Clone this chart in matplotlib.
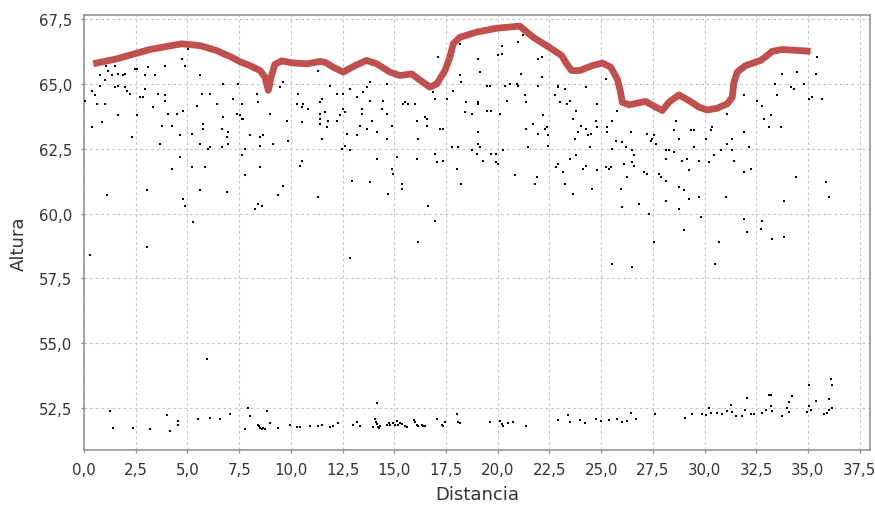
import numpy as np
import matplotlib
matplotlib.use("Agg")
import matplotlib.pyplot as plt
from matplotlib.ticker import MultipleLocator, FuncFormatter

# Puntos medidos: grupo alto (terreno) y grupo bajo (fondo)
dist_alto = [
    0.05, 0.37, 0.37, 0.53, 0.61, 0.77, 0.77, 0.85, 1.02, 1.02, 1.06, 1.10, 1.18, 1.34, 1.50, 1.50,
    1.66, 1.66, 1.66, 1.90, 1.98, 1.98, 2.06, 2.22, 2.30, 2.47, 2.55, 2.55, 2.71, 2.87, 2.95, 2.95,
    3.03, 3.03, 3.11, 3.35, 3.43, 3.59, 3.67, 3.75, 3.92, 3.92, 3.92, 4.08, 4.24, 4.24, 4.48, 4.64,
    4.64, 4.72, 4.80, 4.88, 4.88, 4.80, 5.04, 5.20, 5.20, 5.28, 5.45, 5.61, 5.61, 5.61, 5.69, 5.77,
    5.77, 5.85, 6.01, 6.09, 6.09, 6.41, 6.65, 6.65, 6.73, 6.73, 6.90, 6.90, 6.98, 6.98, 7.22, 7.38,
    7.46, 7.54, 7.62, 7.62, 7.62, 7.70, 7.78, 7.78, 8.02, 8.26, 8.34, 8.42, 8.42, 8.51, 8.51, 8.51,
    8.59, 8.67, 8.99, 9.15, 9.39, 9.47, 9.63, 9.63, 9.80, 9.88, 10.28, 10.36, 10.44, 0.30,
    10.52, 10.60, 10.52, 10.84, 10.52, 11.33, 11.33, 11.49, 11.41, 11.65, 11.41, 11.41, 11.41, 11.73,
    11.81, 11.49, 11.89, 12.21, 12.21, 12.37, 12.53, 12.53, 12.61, 12.45, 12.61, 12.70, 12.86, 12.86,
    12.94, 12.86, 13.18, 13.18, 13.34, 13.42, 13.42, 13.50, 13.66, 13.82, 13.66, 13.82, 13.82, 13.90,
    14.15, 14.15, 14.39, 14.47, 14.63, 14.63, 14.63, 14.71, 14.87, 14.87, 14.95, 15.11, 15.35, 15.35,
    15.43, 15.51, 15.68, 16.00, 16.08, 16.08, 16.16, 16.16, 16.48, 16.56, 16.56, 16.64, 16.88, 16.96,
    16.96, 16.96, 17.05, 17.13, 17.21, 17.37, 17.37, 17.53, 17.77, 17.85, 18.01, 18.09, 18.17, 18.25,
    18.25, 18.17, 18.49, 18.41, 18.74, 18.74, 18.98, 19.06, 19.06, 19.06, 19.06, 19.06, 19.14, 19.14,
    19.30, 19.46, 19.62, 19.46, 19.70, 19.70, 19.94, 19.94, 20.02, 20.02, 20.19, 20.19, 20.11, 20.27,
    20.35, 20.43, 20.59, 20.83, 20.91, 20.99, 20.99, 21.15, 21.23, 21.31, 21.39, 21.39, 21.48, 21.72,
    21.80, 21.88, 21.96, 21.96, 22.12, 22.12, 21.96, 22.20, 22.28, 22.36, 22.44, 22.44, 22.76, 22.84,
    22.92, 22.92, 22.92, 23.01, 23.17, 23.25, 23.25, 23.33, 23.49, 23.49, 23.65, 23.73, 23.65, 23.81,
    23.81, 23.89, 24.05, 24.13, 24.29, 24.29, 24.37, 24.45,
    24.25, 24.49, 24.57, 24.74, 24.82, 24.82, 24.82, 25.22, 25.22, 25.30, 25.30, 25.38, 25.46, 25.54,
    25.54, 25.70, 25.78, 25.94, 26.02, 26.02, 26.10, 26.18, 26.27, 26.43, 26.51, 26.59, 26.51, 26.59,
    26.83, 27.07, 27.23, 27.23, 27.31, 27.39, 27.47, 27.56, 27.64, 27.56, 27.80, 27.88, 28.12, 28.28,
    28.12, 28.12, 28.12, 28.52, 28.52, 28.60, 28.76, 28.76, 28.76, 28.93, 29.01, 29.01, 29.17, 29.25,
    29.25, 29.33, 29.49, 29.49, 29.73, 29.73, 29.81, 30.05, 30.21, 30.29, 30.37, 30.46, 30.70, 30.78,
    31.02, 31.10, 31.10, 31.34, 31.34, 31.42, 31.90, 31.90, 31.90, 31.90, 32.07, 32.15, 32.23, 32.55,
    32.71, 32.79, 32.79, 32.87, 33.11, 33.19, 33.27, 33.43, 33.52, 33.68, 33.76, 33.84, 33.84, 34.16,
    34.32, 34.40, 34.48, 34.80, 35.05, 35.21, 35.37, 35.45, 35.69, 35.85, 36.01,
    25.51, 26.48, 30.50, 5.93,
]
alt_alto = [
    64.35, 64.74, 63.33, 64.55, 64.23, 65.32, 64.93, 63.52, 65.13, 64.23, 65.70, 60.70, 65.51, 65.32, 65.70, 64.87,
    65.38, 64.93, 63.78, 65.32, 65.38, 64.87, 64.74, 64.61, 62.94, 65.57, 65.57, 63.78, 64.48, 64.48, 64.80, 65.32,
    60.89, 58.71, 65.64, 64.10, 65.32, 64.61, 62.68, 63.39, 65.70, 64.55, 64.35, 63.84, 63.39, 61.72, 63.84, 63.01,
    62.17, 65.96, 60.57, 65.70, 60.31, 63.97, 66.34, 61.79, 63.07, 59.67, 64.16, 65.32, 62.68, 60.89, 64.61, 63.46,
    63.26, 61.79, 62.49, 62.56, 64.61, 64.23, 63.26, 62.56, 64.99, 63.71, 62.94, 60.83, 63.13, 62.68, 64.42, 63.84,
    64.99, 63.78, 64.23, 63.65, 62.24, 63.65, 62.49, 61.47, 63.01, 60.18, 64.61, 64.29, 60.38, 62.94, 62.62, 61.79,
    60.31, 63.01, 63.84, 62.68, 60.70, 64.87, 65.06, 61.08, 63.58, 62.81, 64.23, 64.61, 61.85, 58.39,
    64.10, 64.23, 63.52, 64.03, 62.04, 65.51, 60.63, 64.42, 64.29, 63.91, 63.84, 63.65, 63.46, 63.33,
    63.58, 62.88, 64.93, 64.61, 63.58, 63.78, 64.61, 64.03, 63.91, 62.49, 62.62, 63.07, 64.80, 62.43,
    61.27, 58.28, 64.48, 63.01, 63.39, 64.03, 63.84, 64.67, 64.87, 65.06, 63.26, 64.35, 61.20, 63.58,
    63.13, 62.11, 64.03, 64.35, 64.99, 63.84, 62.88, 60.76, 63.39, 61.72, 61.53, 62.17, 61.14, 60.95,
    64.23, 64.29, 64.23, 64.23, 63.58, 62.11, 62.88, 58.90, 63.71, 63.65, 63.39, 60.31, 64.67, 64.42,
    62.30, 59.73, 61.98, 66.02, 63.26, 63.26, 62.04, 64.42, 62.56, 64.74, 61.72, 62.56, 65.32, 65.06,
    61.14, 66.54, 64.29, 63.91, 63.84, 62.43, 62.30, 65.96, 64.29, 64.23, 63.13, 62.68, 62.56, 65.45,
    62.04, 64.93, 64.93, 63.97, 63.97, 62.30, 62.30, 61.98, 61.92, 66.09, 66.47, 66.15, 63.84, 62.43,
    64.93, 64.35, 64.99, 61.47, 64.99, 66.60, 64.93, 65.38, 66.86, 64.55, 64.29, 63.26, 62.56, 63.46,
    61.14, 61.40, 63.07, 65.96, 66.02, 65.25, 64.93, 63.78, 63.26, 63.33, 63.01, 62.62, 64.55, 61.79,
    64.93, 64.87, 61.92, 64.29, 61.60, 64.80, 61.14, 64.23, 64.35, 62.11, 63.65, 62.88, 60.76, 62.24,
    63.97, 63.13, 63.39, 61.72, 64.87, 61.85, 63.01, 62.56,
    63.26, 63.07, 60.95, 63.58, 63.33, 64.23, 61.66, 65.19, 61.79, 63.33, 63.13, 61.72, 61.79, 63.58,
    62.49, 62.81, 63.97, 60.95, 62.74, 60.25, 61.92, 62.56, 61.40, 63.13, 62.43, 62.24, 61.98, 61.85,
    60.38, 61.60, 63.07, 61.53, 59.99, 62.81, 62.88, 63.01, 62.68, 58.90, 61.53, 61.40, 62.43, 62.43,
    62.11, 61.27, 60.50, 62.36, 63.20, 63.58, 62.88, 61.01, 60.18, 62.04, 60.89, 59.35, 62.11, 61.66,
    60.57, 63.20, 63.20, 62.56, 62.04, 60.63, 59.86, 62.88, 61.98, 63.20, 63.33, 62.24, 58.90, 62.43,
    60.63, 62.68, 63.84, 62.88, 62.43, 62.04, 64.55, 63.13, 61.60, 59.80, 59.29, 62.56, 61.72, 64.35,
    59.41, 64.16, 59.73, 63.65, 63.33, 63.78, 59.03, 64.99, 64.55, 63.33, 65.38, 60.50, 59.09, 64.87,
    64.80, 61.40, 65.45, 64.99, 64.42, 64.48, 65.38, 66.02, 64.42, 61.20, 60.63,
    58.06, 57.93, 58.06, 54.40,
]

dist_bajo = [
    1.26, 1.42, 2.38, 3.19, 4.00, 4.16, 4.56, 4.56, 5.53, 6.09, 6.57, 7.06, 7.78, 7.94, 8.02, 8.43,
    8.51, 8.59, 8.75, 8.83, 8.99, 9.39, 9.96, 10.32, 10.44, 10.92, 11.33, 11.49, 11.89, 12.05, 12.29,
    13.02, 13.18, 13.34, 13.98, 14.07, 14.15, 14.15, 14.23, 14.31, 14.63, 14.79, 14.95, 15.11, 15.19,
    15.35, 15.60, 16.00, 16.08, 16.32, 16.48, 17.05, 17.29, 17.45, 18.01, 18.09, 18.17, 19.62, 20.11,
    20.27, 20.51, 20.75, 21.39, 22.92, 23.41, 23.49, 23.97, 24.21, 24.74, 24.98, 25.38, 25.78, 26.02,
    26.27, 26.43, 26.67, 27.60, 29.05, 29.41, 29.89, 30.05, 30.21, 30.29, 30.62, 30.86, 31.10, 31.26,
    31.34, 31.50, 31.82, 31.98, 32.07, 32.23, 32.39, 32.79, 32.95, 33.11, 33.19, 33.19, 33.27, 33.76,
    34.00, 34.08, 34.08, 34.24, 34.97, 35.05, 35.05, 35.13, 35.37, 35.77, 35.93, 36.01, 36.01, 36.09,
    36.17, 36.17,
    8.47, 8.67, 14.11, 14.27, 14.74, 15.03, 15.30, 15.52, 15.95, 16.16, 16.40, 17.37, 20.19,
]
alt_bajo = [
    52.41, 51.75, 51.75, 51.68, 52.22, 51.62, 51.99, 51.86, 52.07, 52.13, 52.07, 52.26, 51.68, 52.52, 52.20, 51.87,
    51.75, 51.68, 51.68, 52.39, 51.94, 51.75, 51.87, 51.79, 51.77, 51.83, 51.83, 51.87, 51.77, 51.83, 51.94,
    51.87, 51.96, 51.83, 51.77, 52.07, 52.71, 51.90, 51.77, 51.83, 51.87, 51.87, 51.94, 52.00, 51.87,
    51.90, 51.77, 51.96, 51.87, 51.87, 51.83, 52.09, 51.87, 51.96, 52.28, 51.96, 51.94, 51.96, 52.00,
    51.83, 51.94, 51.96, 51.83, 52.03, 52.22, 51.96, 52.03, 51.94, 52.07, 52.00, 52.03, 52.07, 51.96,
    52.00, 52.32, 52.07, 52.28, 52.13, 52.28, 52.28, 52.22, 52.52, 52.32, 52.32, 52.26, 52.39, 52.64,
    52.35, 52.20, 52.20, 52.45, 52.90, 52.26, 52.26, 52.32, 52.45, 52.99, 52.99, 52.58, 52.39, 52.20,
    52.52, 52.73, 52.35, 52.96, 52.35, 53.41, 52.58, 52.45, 52.77, 52.28, 52.32, 52.84, 52.45, 53.63,
    53.41, 52.52,
    51.81, 51.73, 51.96, 51.73, 51.94, 51.87, 51.94, 51.83, 52.03, 51.83, 51.81, 51.83, 51.90,
]

# Trazo rojo del perfil superior
perfil_dist = [
    0.45, 1.58, 3.19, 4.72, 5.61, 6.41, 7.22, 7.54, 8.02, 8.51, 8.75, 8.91, 9.07, 9.23, 9.56, 10.12,
    10.77, 11.41, 11.65, 12.05, 12.53, 13.10, 13.66, 14.15, 14.79, 15.27, 15.84, 16.16, 16.72, 17.05,
    17.45, 17.69, 17.85, 18.17, 18.98, 19.94, 21.07, 21.23, 21.72, 22.36, 23.09, 23.33, 23.57, 23.97,
    24.57, 25.06, 25.46, 25.78, 25.94, 26.02, 26.35, 27.15, 27.64, 27.96, 28.28, 28.76, 29.25, 29.73,
    30.13, 30.62, 31.10, 31.34, 31.42, 31.58, 31.98, 32.71, 33.03, 33.27, 33.76, 34.56, 35.13,
]
perfil_alt = [
    65.77, 65.96, 66.32, 66.54, 66.47, 66.28, 65.99, 65.85, 65.70, 65.51, 65.26, 64.75, 65.32, 65.75, 65.88, 65.80,
    65.77, 65.86, 65.83, 65.64, 65.45, 65.70, 65.90, 65.77, 65.45, 65.32, 65.38, 65.19, 64.87, 64.99,
    65.51, 66.02, 66.54, 66.79, 66.99, 67.14, 67.22, 67.11, 66.79, 66.47, 66.09, 65.77, 65.51, 65.51,
    65.70, 65.80, 65.64, 65.19, 64.68, 64.29, 64.19, 64.32, 64.10, 63.97, 64.29, 64.57, 64.35, 64.10,
    63.99, 64.06, 64.23, 64.48, 65.06, 65.45, 65.70, 65.90, 66.09, 66.25, 66.32, 66.28, 66.25,
]

fig = plt.figure(figsize=(8.75, 5.06), dpi=100)
ax = fig.add_axes([0.096, 0.1087, 0.8983, 0.8597])

ax.scatter(dist_alto, alt_alto, marker='s', s=4.5, color='black', linewidths=0, zorder=3)
ax.scatter(dist_bajo, alt_bajo, marker='s', s=4.5, color='black', linewidths=0, zorder=3)
ax.plot(perfil_dist, perfil_alt, color='#c0504d', linewidth=4.9,
        solid_joinstyle='round', solid_capstyle='butt', zorder=4)

ax.set_xlim(0, 38.0)
ax.set_ylim(50.89, 67.65)
ax.xaxis.set_major_locator(MultipleLocator(2.5))
ax.yaxis.set_major_locator(MultipleLocator(2.5))
coma = FuncFormatter(lambda v, pos: f"{v:.1f}".replace('.', ','))
ax.xaxis.set_major_formatter(coma)
ax.yaxis.set_major_formatter(coma)

ax.grid(True, color='#c4c4c4', linestyle=(0, (2.5, 2.5)), linewidth=0.8)
ax.set_axisbelow(True)
for s in ax.spines.values():
    s.set_color('#8c8c8c')
    s.set_linewidth(1.1)
ax.tick_params(direction='out', length=2.5, width=0.9, color='#8c8c8c',
               labelsize=10.8, labelcolor='#333333', pad=6)

ax.set_xlabel("Distancia", fontsize=13, color='#333333', labelpad=6)
ax.set_ylabel("Altura", fontsize=13, color='#333333')
ax.yaxis.set_label_coords(-0.071, 0.477)

fig.savefig("out.png", dpi=100)
